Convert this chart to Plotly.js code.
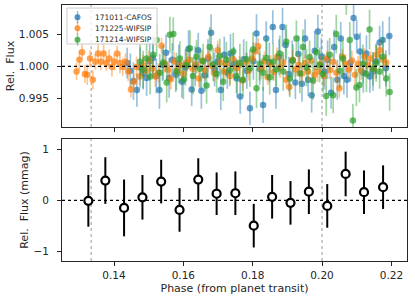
<!DOCTYPE html>
<html>
<head>
<meta charset="utf-8">
<script src="https://cdn.plot.ly/plotly-3.0.1.min.js"></script>
<style>html,body{margin:0;padding:0;background:#fff;}#chart{width:415px;height:300px;}</style>
</head>
<body>
<div id="chart"></div>
<script>
// ---------- Data ----------
const seriesNames = ["171011-CAFOS", "171225-WIFSIP", "171214-WIFSIP"];

// 171011-CAFOS (blue)
const cafosPhase = [
  0.1438,0.1447,0.1456,0.1466,0.1475,0.1484,0.1494,0.1503,0.1512,0.1522,
  0.1531,0.1540,0.1550,0.1559,0.1568,0.1578,0.1587,0.1596,0.1606,0.1615,
  0.1624,0.1634,0.1643,0.1652,0.1662,0.1671,0.1680,0.1690,0.1699,0.1708,
  0.1718,0.1727,0.1736,0.1746,0.1755,0.1764,0.1774,0.1783,0.1792,0.1802,
  0.1811,0.1820,0.1830,0.1839,0.1848,0.1858,0.1867,0.1876,0.1886,0.1895,
  0.1904,0.1914,0.1923,0.1932,0.1942,0.1951,0.1960,0.1970,0.1979,0.1988,
  0.1998,0.2007,0.2016,0.2026,0.2035,0.2044,0.2054,0.2063,0.2072,0.2082,
  0.2091,0.2100,0.2110,0.2119,0.2128,0.2138,0.2147,0.2156,0.2166,0.2175,
  0.2184,0.2194];
const cafosFlux = [
  1.0005,0.9993,0.9977,0.9963,0.9998,0.9989,0.9982,1.0008,1.0013,0.9985,
  0.9963,1.0002,1.0021,0.9982,1.0010,0.9987,1.0004,0.9976,0.9998,1.0027,
  0.9964,1.0000,1.0025,0.9962,0.9986,1.0012,1.0052,0.9995,1.0007,0.9963,
  1.0018,0.9990,1.0020,1.0004,0.9981,0.9953,1.0011,0.9993,0.9935,1.0008,
  1.0051,0.9996,0.9940,1.0043,1.0006,1.0061,0.9963,1.0014,1.0061,1.0033,
  0.9988,1.0009,0.9975,1.0019,0.9973,1.0043,0.9979,0.9955,1.0024,1.0054,
  1.0015,0.9992,1.0010,0.9959,1.0030,0.9979,1.0043,0.9985,0.9979,1.0006,
  1.0075,1.0046,1.0023,0.9990,1.0020,0.9984,0.9992,1.0008,1.0037,1.0041,
  0.9997,1.0047];
const cafosErr = [
  0.0024,0.0027,0.0029,0.0026,0.0031,0.0025,0.0028,0.0030,0.0026,0.0027,
  0.0029,0.0025,0.0028,0.0031,0.0026,0.0027,0.0030,0.0025,0.0028,0.0029,
  0.0026,0.0031,0.0027,0.0028,0.0025,0.0030,0.0029,0.0026,0.0027,0.0031,
  0.0028,0.0025,0.0030,0.0026,0.0029,0.0027,0.0031,0.0028,0.0026,0.0029,
  0.0030,0.0025,0.0028,0.0027,0.0031,0.0026,0.0029,0.0028,0.0030,0.0025,
  0.0027,0.0031,0.0026,0.0029,0.0028,0.0030,0.0025,0.0027,0.0031,0.0026,
  0.0029,0.0028,0.0030,0.0025,0.0027,0.0031,0.0026,0.0029,0.0028,0.0030,
  0.0027,0.0026,0.0029,0.0031,0.0028,0.0025,0.0030,0.0027,0.0026,0.0029,
  0.0028,0.0030];

// 171225-WIFSIP (orange)
const wif1225Phase = [
  0.1292,0.1300,0.1308,0.1316,0.1323,0.1331,0.1339,0.1346,0.1354,0.1362,
  0.1370,0.1378,0.1386,0.1394,0.1401,0.1409,0.1417,0.1425,0.1433,0.1441,
  0.1449,0.1457,0.1465,0.1474,0.1483,0.1492,0.1501,0.1510,0.1519,0.1528,
  0.1537,0.1546,0.1555,0.1564,0.1573,0.1582,0.1591,0.1600,0.1609,0.1618,
  0.1627,0.1636,0.1645,0.1654,0.1663,0.1672,0.1681,0.1690,0.1699,0.1708,
  0.1717,0.1726,0.1735,0.1744,0.1753,0.1762,0.1771,0.1780,0.1789,0.1798,
  0.1807,0.1816,0.1825,0.1834,0.1843,0.1852,0.1861,0.1870,0.1879,0.1888,
  0.1897,0.1906,0.1915,0.1924,0.1933,0.1942,0.1951,0.1960,0.1969,0.1978,
  0.1987,0.1996,0.2005,0.2014,0.2023,0.2032,0.2041,0.2050,0.2059,0.2068,
  0.2077,0.2086,0.2095,0.2104,0.2113,0.2122,0.2131,0.2140,0.2149,0.2158,
  0.2167,0.2176,0.2185];
const wif1225Flux = [
  0.9992,1.0010,1.0022,0.9988,0.9987,1.0012,0.9979,1.0007,1.0020,1.0007,
  1.0020,1.0005,1.0012,0.9999,1.0007,1.0020,1.0005,0.9999,1.0007,0.9992,
  0.9964,0.9976,0.9999,0.9984,1.0003,0.9993,1.0010,0.9997,0.9984,0.9990,
  1.0032,1.0004,0.9995,0.9980,1.0008,0.9993,1.0002,0.9988,1.0006,1.0010,
  0.9996,1.0003,0.9981,1.0009,0.9994,1.0015,1.0001,0.9989,1.0025,1.0006,
  0.9992,1.0004,0.9985,1.0011,0.9997,1.0002,0.9978,1.0007,0.9993,1.0012,
  1.0023,1.0031,0.9996,1.0008,0.9983,1.0003,0.9991,1.0014,0.9998,1.0006,
  0.9979,0.9968,1.0010,0.9995,1.0002,0.9989,1.0005,0.9992,1.0009,0.9986,
  0.9992,1.0003,0.9985,1.0012,0.9994,1.0007,0.9990,0.9966,1.0015,1.0004,
  0.9995,1.0009,0.9987,1.0004,0.9993,1.0015,1.0002,1.0012,0.9996,1.0018,
  1.0025,1.0010,1.0006];
const wif1225Err = [
  0.0013,0.0015,0.0012,0.0014,0.0016,0.0013,0.0015,0.0012,0.0014,0.0013,
  0.0016,0.0012,0.0014,0.0015,0.0013,0.0012,0.0016,0.0014,0.0013,0.0015,
  0.0012,0.0014,0.0016,0.0013,0.0015,0.0012,0.0014,0.0013,0.0016,0.0015,
  0.0012,0.0014,0.0013,0.0016,0.0015,0.0012,0.0014,0.0013,0.0015,0.0016,
  0.0012,0.0014,0.0013,0.0015,0.0016,0.0012,0.0014,0.0013,0.0015,0.0012,
  0.0016,0.0014,0.0013,0.0015,0.0012,0.0014,0.0016,0.0013,0.0015,0.0012,
  0.0014,0.0013,0.0016,0.0015,0.0012,0.0014,0.0013,0.0015,0.0016,0.0012,
  0.0014,0.0013,0.0015,0.0012,0.0016,0.0014,0.0013,0.0015,0.0012,0.0014,
  0.0016,0.0013,0.0015,0.0012,0.0014,0.0013,0.0016,0.0015,0.0012,0.0014,
  0.0013,0.0015,0.0016,0.0012,0.0014,0.0013,0.0015,0.0012,0.0016,0.0014,
  0.0013,0.0015,0.0012];

// 171214-WIFSIP (green)
const wif1214Phase = [
  0.1475,0.1484,0.1494,0.1504,0.1513,0.1523,0.1532,0.1542,0.1552,0.1561,
  0.1571,0.1580,0.1590,0.1600,0.1609,0.1619,0.1628,0.1638,0.1648,0.1657,
  0.1667,0.1676,0.1686,0.1696,0.1705,0.1715,0.1724,0.1734,0.1744,0.1753,
  0.1763,0.1772,0.1782,0.1792,0.1801,0.1811,0.1820,0.1830,0.1840,0.1849,
  0.1859,0.1868,0.1878,0.1888,0.1897,0.1907,0.1916,0.1926,0.1936,0.1945,
  0.1955,0.1964,0.1974,0.1984,0.1993,0.2003,0.2012,0.2022,0.2032,0.2041,
  0.2051,0.2060,0.2070,0.2080,0.2089,0.2099,0.2108,0.2118,0.2128,0.2137,
  0.2147,0.2156,0.2166,0.2176,0.2185,0.2195];
const wif1214Flux = [
  1.0007,0.9995,1.0012,0.9984,1.0018,1.0041,0.9990,1.0006,0.9975,1.0049,
  1.0050,0.9992,1.0012,0.9979,1.0002,1.0028,0.9985,1.0015,0.9996,1.0008,
  0.9970,1.0030,1.0003,0.9988,1.0016,0.9976,1.0010,0.9994,1.0023,0.9985,
  1.0005,0.9979,1.0011,0.9997,1.0026,0.9966,1.0004,0.9990,1.0013,0.9983,
  1.0007,0.9995,1.0020,0.9992,1.0038,0.9981,1.0009,1.0043,0.9989,1.0030,
  0.9998,1.0014,0.9978,1.0022,1.0002,0.9988,0.9954,1.0018,0.9955,1.0050,
  0.9993,1.0012,1.0110,1.0041,0.9916,0.9967,0.9971,1.0004,0.9988,1.0057,
  0.9996,1.0005,0.9992,1.0015,0.9981,0.9960];
const wif1214Err = [
  0.0027,0.0029,0.0025,0.0028,0.0030,0.0026,0.0029,0.0027,0.0031,0.0028,
  0.0026,0.0029,0.0027,0.0030,0.0025,0.0028,0.0029,0.0026,0.0030,0.0027,
  0.0028,0.0031,0.0026,0.0029,0.0027,0.0030,0.0028,0.0025,0.0029,0.0027,
  0.0030,0.0026,0.0028,0.0029,0.0027,0.0031,0.0026,0.0028,0.0030,0.0027,
  0.0029,0.0026,0.0028,0.0030,0.0027,0.0029,0.0025,0.0028,0.0031,0.0027,
  0.0029,0.0026,0.0030,0.0028,0.0027,0.0029,0.0031,0.0026,0.0028,0.0030,
  0.0027,0.0029,0.0030,0.0028,0.0026,0.0029,0.0027,0.0030,0.0028,0.0031,
  0.0026,0.0029,0.0027,0.0030,0.0028,0.0029];

// Binned residuals (mmag)
const binPhase = [0.1326,0.1375,0.1429,0.1482,0.1536,0.1589,0.1643,0.1696,0.1750,
                  0.1803,0.1856,0.1909,0.1962,0.2015,0.2068,0.2121,0.2176];
const binFlux  = [-0.01,0.39,-0.15,0.06,0.37,-0.19,0.41,0.13,0.14,
                  -0.50,0.07,-0.05,0.17,-0.11,0.52,0.16,0.26];
const binErr   = [0.51,0.46,0.56,0.44,0.43,0.43,0.42,0.42,0.43,
                  0.43,0.43,0.43,0.44,0.43,0.44,0.43,0.43];

// Reference phases (vertical dotted lines)
const markPhases = [0.1334, 0.2000];

// ---------- Plot ----------
const FONT = "DejaVu Sans, sans-serif";
const TXT = "#262626";
const seriesRGB = ["31,119,180", "255,127,14", "44,160,44"];

function rawTrace(name, x, y, e, rgb) {
  return {
    type: "scatter", mode: "markers", name: name, showlegend: false,
    x: x, y: y, xaxis: "x", yaxis: "y",
    marker: {size: 6.5, color: "rgba(" + rgb + ",0.7)", line: {width: 0}},
    error_y: {type: "data", array: e, visible: true, color: "rgba(" + rgb + ",0.45)", thickness: 1.7, width: 0}
  };
}

const traces = [
  rawTrace(seriesNames[0], cafosPhase, cafosFlux, cafosErr, seriesRGB[0]),
  rawTrace(seriesNames[1], wif1225Phase, wif1225Flux, wif1225Err, seriesRGB[1]),
  rawTrace(seriesNames[2], wif1214Phase, wif1214Flux, wif1214Err, seriesRGB[2]),
  {
    type: "scatter", mode: "markers", showlegend: false,
    x: binPhase, y: binFlux, xaxis: "x2", yaxis: "y2",
    marker: {size: 8, color: "#ffffff", line: {width: 2.2, color: "#000000"}},
    error_y: {type: "data", array: binErr, visible: true, color: "#000000", thickness: 2, width: 0}
  }
];

const shapes = [];
markPhases.forEach(function (p) {
  ["y", "y2"].forEach(function (ya) {
    shapes.push({type: "line", xref: ya === "y" ? "x" : "x2", yref: ya + " domain",
      x0: p, x1: p, y0: 0, y1: 1, layer: "below",
      line: {color: "#999999", width: 1, dash: "dot"}});
  });
});
shapes.push({type: "line", xref: "x domain", yref: "y", x0: 0, x1: 1, y0: 1.0, y1: 1.0,
  layer: "above", line: {color: "#000000", width: 1.3, dash: "dot"}});
shapes.push({type: "line", xref: "x2 domain", yref: "y2", x0: 0, x1: 1, y0: 0, y1: 0,
  layer: "below", line: {color: "#000000", width: 1.3, dash: "dot"}});

// Compact legend box (matplotlib-like), positioned in the top panel's domain
const annotations = [];
shapes.push({type: "rect", xref: "x domain", yref: "y domain",
  x0: 0.0145, x1: 0.2754, y0: 0.68, y1: 0.975, layer: "above",
  fillcolor: "rgba(255,255,255,0.8)", line: {color: "#cccccc", width: 1}});
const legendRowsY = [0.90, 0.81, 0.716];
seriesNames.forEach(function (nm, i) {
  const yy = legendRowsY[i];
  shapes.push({type: "line", xref: "x domain", yref: "y domain", xsizemode: "pixel", ysizemode: "pixel",
    xanchor: 0.045, yanchor: yy, x0: 0, x1: 0, y0: -6, y1: 6, layer: "above",
    line: {color: "rgba(" + seriesRGB[i] + ",0.5)", width: 1.5}});
  shapes.push({type: "circle", xref: "x domain", yref: "y domain", xsizemode: "pixel", ysizemode: "pixel",
    xanchor: 0.045, yanchor: yy, x0: -3, x1: 3, y0: -3, y1: 3, layer: "above",
    fillcolor: "rgba(" + seriesRGB[i] + ",0.75)", line: {width: 0}});
  annotations.push({xref: "x domain", yref: "y domain", x: 0.091, y: yy, xanchor: "left", yanchor: "middle",
    showarrow: false, text: nm, font: {family: FONT, size: 7.5, color: TXT}});
});

const axisCommon = {
  showgrid: false, zeroline: false, showline: true, mirror: true,
  linecolor: TXT, linewidth: 1, ticks: "outside", ticklen: 4, tickwidth: 1,
  tickcolor: TXT, tickfont: {family: FONT, size: 10.5, color: TXT}
};

const layout = {
  width: 415, height: 300,
  margin: {l: 62, r: 8, t: 5, b: 39},
  paper_bgcolor: "#ffffff", plot_bgcolor: "#ffffff",
  font: {family: FONT, color: TXT},
  showlegend: false,
  xaxis: Object.assign({}, axisCommon, {
    domain: [0, 1], anchor: "y", range: [0.1250, 0.2245],
    tickvals: [0.14, 0.16, 0.18, 0.20, 0.22], showticklabels: false
  }),
  yaxis: Object.assign({}, axisCommon, {
    domain: [0.5234, 1], anchor: "x", range: [0.99057, 1.00952],
    tickvals: [0.995, 1.000, 1.005], ticktext: ["0.995", "1.000", "1.005"],
    ticklabelstandoff: 6,
    title: {text: "Rel.  Flux", font: {family: FONT, size: 11, color: TXT}}
  }),
  xaxis2: Object.assign({}, axisCommon, {
    domain: [0, 1], anchor: "y2", range: [0.1250, 0.2245], matches: "x",
    tickvals: [0.14, 0.16, 0.18, 0.20, 0.22], ticktext: ["0.14", "0.16", "0.18", "0.20", "0.22"],
    title: {text: "Phase (from planet transit)", font: {family: FONT, size: 11, color: TXT}, standoff: 4}
  }),
  yaxis2: Object.assign({}, axisCommon, {
    domain: [0, 0.4766], anchor: "x2", range: [-1.197, 1.21],
    tickvals: [-1, 0, 1], ticktext: ["\u22121", "0", "1"],
    ticklabelstandoff: 6,
    title: {text: "Rel.  Flux (mmag)", font: {family: FONT, size: 11, color: TXT}}
  }),
  shapes: shapes,
  annotations: annotations
};

Plotly.newPlot("chart", traces, layout, {staticPlot: true, displayModeBar: false});
</script>
</body>
</html>
